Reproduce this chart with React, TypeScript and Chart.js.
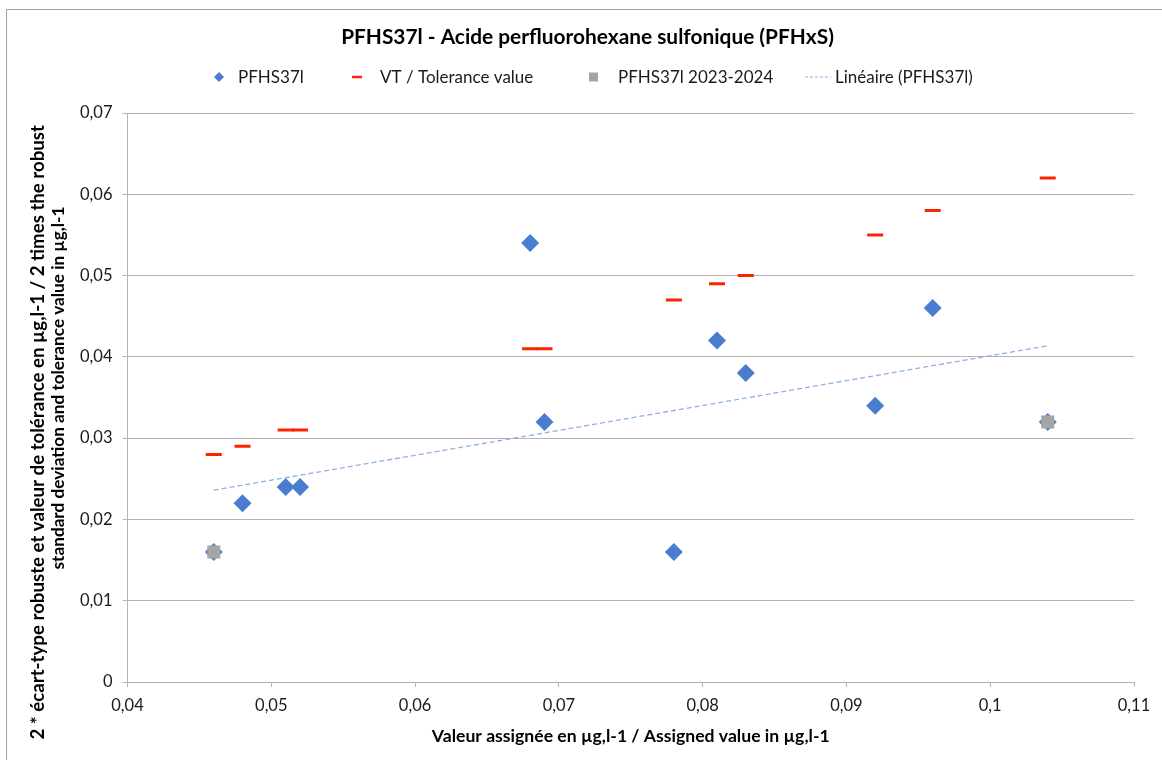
import React, { useEffect, useRef } from 'react';
import { Chart, registerables } from 'chart.js';

Chart.register(...registerables);

// ---- Data ----
const assignedValues = [0.046, 0.048, 0.051, 0.052, 0.068, 0.069, 0.078, 0.081, 0.083, 0.092, 0.096, 0.104];
const robustSD2 = [0.016, 0.022, 0.024, 0.024, 0.054, 0.032, 0.016, 0.042, 0.038, 0.034, 0.046, 0.032];
const toleranceValues = [0.028, 0.029, 0.031, 0.031, 0.041, 0.041, 0.047, 0.049, 0.05, 0.055, 0.058, 0.062];
const recentAssigned = [0.046, 0.104];
const recentSD2 = [0.016, 0.032];

const xTickValues = [0.04, 0.05, 0.06, 0.07, 0.08, 0.09, 0.1, 0.11];
const xTickLabels = ['0,04', '0,05', '0,06', '0,07', '0,08', '0,09', '0,1', '0,11'];
const yTickValues = [0, 0.01, 0.02, 0.03, 0.04, 0.05, 0.06, 0.07];
const yTickLabels = ['0', '0,01', '0,02', '0,03', '0,04', '0,05', '0,06', '0,07'];

const seriesNames = ['PFHS37l', 'VT / Tolerance value', 'PFHS37l 2023-2024', 'Linéaire (PFHS37l)'];
const chartTitle = 'PFHS37l - Acide perfluorohexane sulfonique (PFHxS)';
const xAxisTitle = 'Valeur assignée en µg,l-1 / Assigned value in µg,l-1';
const yAxisTitleLines = [
  '2 * écart-type robuste et valeur de tolérance en µg,l-1 / 2 times the robust',
  'standard deviation and tolerance value in µg,l-1',
];

const BLUE = '#4a7dd0';
const RED = '#fc2400';
const GRAY = '#a5a5a5';
const TREND = '#8fb0e4';
const GRID = '#b4b4b4';
const FONT = 'Lato';

function linearFit(xs: number[], ys: number[]) {
  const n = xs.length;
  const mx = xs.reduce((a, b) => a + b, 0) / n;
  const my = ys.reduce((a, b) => a + b, 0) / n;
  let sxy = 0;
  let sxx = 0;
  for (let i = 0; i < n; i++) {
    sxy += (xs[i] - mx) * (ys[i] - my);
    sxx += (xs[i] - mx) * (xs[i] - mx);
  }
  const slope = sxy / sxx;
  return { slope, intercept: my - slope * mx };
}

function fitSize(ctx: CanvasRenderingContext2D, text: string, weight: string, target: number) {
  ctx.font = `${weight} 100px ${FONT}`;
  const w = ctx.measureText(text).width;
  return (100 * target) / w;
}

const textPlugin = {
  id: 'excelTexts',
  afterDraw(chart: any) {
    const ctx: CanvasRenderingContext2D = chart.ctx;
    const area = chart.chartArea;
    ctx.save();
    ctx.fillStyle = '#000';
    ctx.textBaseline = 'middle';

    // Title
    const ts = fitSize(ctx, chartTitle, 'bold', 493);
    ctx.font = `bold ${ts}px ${FONT}`;
    ctx.textAlign = 'center';
    ctx.fillText(chartTitle, 587.5, 37);

    // X axis title
    const xs = fitSize(ctx, xAxisTitle, 'bold', 398);
    ctx.font = `bold ${xs}px ${FONT}`;
    ctx.fillText(xAxisTitle, (area.left + area.right) / 2, 736);

    // Y axis title (two lines, rotated)
    const ys1 = fitSize(ctx, yAxisTitleLines[0], 'bold', 615);
    ctx.font = `bold ${ys1}px ${FONT}`;
    const w1 = ctx.measureText(yAxisTitleLines[0]).width;
    ctx.save();
    ctx.translate(38, 125 + w1 / 2);
    ctx.rotate(-Math.PI / 2);
    ctx.fillText(yAxisTitleLines[0], 0, 0);
    ctx.restore();
    const ys2 = fitSize(ctx, yAxisTitleLines[1], 'bold', 363);
    ctx.font = `bold ${ys2}px ${FONT}`;
    ctx.save();
    ctx.translate(58, 388);
    ctx.rotate(-Math.PI / 2);
    ctx.fillText(yAxisTitleLines[1], 0, 0);
    ctx.restore();

    // Legend
    const ly = 77;
    ctx.font = `17px ${FONT}`;
    ctx.textAlign = 'left';
    ctx.fillStyle = '#1a1a1a';
    ctx.save();
    ctx.fillStyle = BLUE;
    ctx.beginPath();
    ctx.moveTo(219, ly - 5);
    ctx.lineTo(224, ly);
    ctx.lineTo(219, ly + 5);
    ctx.lineTo(214, ly);
    ctx.closePath();
    ctx.fill();
    ctx.strokeStyle = RED;
    ctx.lineWidth = 2.5;
    ctx.beginPath();
    ctx.moveTo(352, ly);
    ctx.lineTo(362, ly);
    ctx.stroke();
    ctx.fillStyle = GRAY;
    ctx.fillRect(589, ly - 4.5, 9, 9);
    ctx.strokeStyle = TREND;
    ctx.lineWidth = 1.2;
    ctx.setLineDash([3, 2]);
    ctx.beginPath();
    ctx.moveTo(805, ly);
    ctx.lineTo(831, ly);
    ctx.stroke();
    ctx.restore();
    ctx.fillText(seriesNames[0], 238, ly + 1);
    ctx.fillText(seriesNames[1], 380, ly + 1);
    ctx.fillText(seriesNames[2], 618, ly + 1);
    ctx.fillText(seriesNames[3], 835, ly + 1);

    ctx.restore();
  },
};

export default function App() {
  const canvasRef = useRef<HTMLCanvasElement | null>(null);

  useEffect(() => {
    const canvas = canvasRef.current;
    if (!canvas) return;
    const fit = linearFit(assignedValues, robustSD2);
    const xMin = Math.min(...assignedValues);
    const xMax = Math.max(...assignedValues);
    const trendPoints = [
      { x: xMin, y: fit.intercept + fit.slope * xMin },
      { x: xMax, y: fit.intercept + fit.slope * xMax },
    ];

    const chart = new Chart(canvas, {
      type: 'scatter',
      data: {
        datasets: [
          {
            label: seriesNames[2],
            data: recentAssigned.map((x, i) => ({ x, y: recentSD2[i] })),
            pointStyle: 'rect',
            pointRadius: 9.2,
            backgroundColor: GRAY,
            borderColor: GRAY,
            borderWidth: 0,
            order: 0,
          },
          {
            label: seriesNames[1],
            data: assignedValues.map((x, i) => ({ x, y: toleranceValues[i] })),
            pointStyle: 'line',
            pointRadius: 8,
            borderColor: RED,
            backgroundColor: RED,
            pointBorderWidth: 3,
            order: 1,
          },
          {
            label: seriesNames[3],
            type: 'line',
            data: trendPoints,
            borderColor: TREND,
            borderWidth: 1.3,
            borderDash: [5, 3],
            pointRadius: 0,
            showLine: true,
            fill: false,
            order: 2,
          },
          {
            label: seriesNames[0],
            data: assignedValues.map((x, i) => ({ x, y: robustSD2[i] })),
            pointStyle: 'rectRot',
            pointRadius: 9,
            backgroundColor: BLUE,
            borderColor: BLUE,
            borderWidth: 0,
            order: 3,
          },
        ],
      } as any,
      options: {
        responsive: false,
        devicePixelRatio: 1,
        animation: false,
        events: [],
        layout: { padding: { left: 0, top: 113, right: 28, bottom: 0 } },
        plugins: {
          legend: { display: false },
          title: { display: false },
          tooltip: { enabled: false },
        },
        scales: {
          x: {
            type: 'linear',
            min: 0.04,
            max: 0.11,
            afterFit: (s: any) => {
              s.height = 78;
            },
            afterBuildTicks: (s: any) => {
              s.ticks = xTickValues.map((v) => ({ value: v }));
            },
            ticks: {
              callback: (_v: any, i: number) => xTickLabels[i],
              font: { family: FONT, size: 16.5 },
              color: '#1a1a1a',
              padding: 9,
              maxRotation: 0,
              autoSkip: false,
            },
            grid: {
              drawOnChartArea: false,
              drawTicks: true,
              tickLength: 5,
              tickColor: GRID,
              color: GRID,
            },
            border: { display: true, color: GRID, width: 1 },
          },
          y: {
            type: 'linear',
            min: 0,
            max: 0.07,
            afterFit: (s: any) => {
              s.width = 127.5;
            },
            afterBuildTicks: (s: any) => {
              s.ticks = yTickValues.map((v) => ({ value: v }));
            },
            ticks: {
              callback: (_v: any, i: number) => yTickLabels[i],
              font: { family: FONT, size: 16.5 },
              color: '#1a1a1a',
              padding: 10,
              autoSkip: false,
            },
            grid: {
              drawTicks: true,
              tickLength: 5,
              color: GRID,
              tickColor: GRID,
              lineWidth: 1,
            },
            border: { display: true, color: GRID, width: 1 },
          },
        },
      } as any,
      plugins: [textPlugin],
    });

    return () => {
      chart.destroy();
    };
  }, []);

  return (
    <div
      style={{
        position: 'fixed',
        left: 0,
        top: 0,
        width: 1162,
        height: 760,
        background: '#ffffff',
        overflow: 'hidden',
      }}
    >
      <div
        style={{
          position: 'absolute',
          left: 6,
          top: 9,
          width: 1170,
          height: 770,
          border: '1px solid #a3a3a3',
          boxSizing: 'border-box',
        }}
      />
      <canvas
        ref={canvasRef}
        width={1162}
        height={760}
        style={{ position: 'absolute', left: 0, top: 0, display: 'block' }}
      />
    </div>
  );
}
